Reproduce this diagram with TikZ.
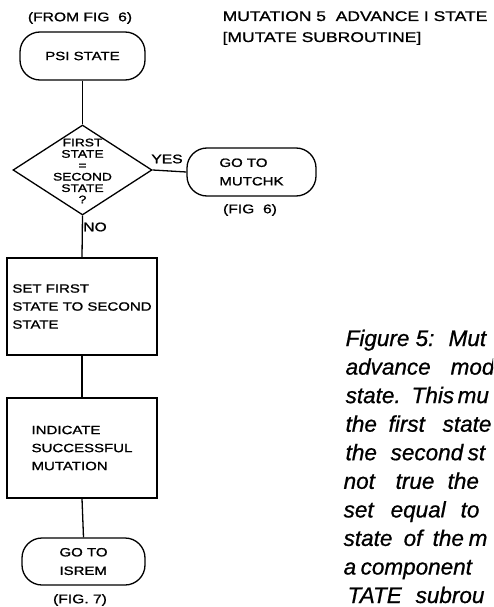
\documentclass[tikz,border=0pt]{standalone}
\usepackage{fontspec}
\setmainfont{Liberation Sans}
\newfontfamily\fcfont[FakeStretch=1.25,FakeBold=1.2]{Liberation Sans}
\newfontfamily\capfont[FakeBold=0.8]{Liberation Sans}
\usetikzlibrary{shapes.geometric}
\begin{document}
\begin{tikzpicture}[x=1pt,y=-1pt,line width=1.3pt,
  boxtxt/.style={font=\fcfont\fontsize{12}{18.5}\selectfont},
  term/.style={draw,rounded corners=20pt,align=left,inner sep=0pt,boxtxt},
  proc/.style={draw,align=left,inner sep=0pt,font=\fcfont\fontsize{12}{18}\selectfont},
  dia/.style={draw,diamond,inner sep=0pt},
  dtxt/.style={align=center,inner sep=0pt,font=\fcfont\fontsize{11}{11.4}\selectfont},
  lbl/.style={inner sep=0pt,font=\fcfont\fontsize{12.5}{14}\selectfont},
  head/.style={inner sep=0pt,anchor=base west,font=\fcfont\fontsize{14}{16}\selectfont},
  capw/.style={inner sep=0pt,anchor=base west,font=\capfont\itshape\fontsize{22.5}{26}\selectfont}]
\useasboundingbox (0,0) rectangle (493,607);
\fill[white] (0,0) rectangle (493,607);
\clip (0,0) rectangle (493,607);

% header
\node[head] (h1) at (222,21) {MUTATION 5\ \ ADVANCE I STATE};
\node[head] (h2) at (222,42) {[MUTATE\ SUBROUTINE]};

% flowchart
\node[lbl] (from) at (80,18) {(FROM FIG\ \ 6)};
\node[term,minimum width=125pt,minimum height=48pt] (psi) at (82.5,56) {PSI STATE};
\node[dia,minimum width=139pt,minimum height=90pt] (dec) at (82.5,170) {};
\node[dtxt] (dtext) at (82.5,171) {FIRST\\STATE\\=\\SECOND\\STATE\\?};
\node[term,minimum width=129pt,minimum height=48pt] (mutchk) at (251.5,172) {GO TO\\MUTCHK};
\node[lbl] (fig6) at (250,210) {(FIG\ \ 6)};
\node[proc,minimum width=150pt,minimum height=97pt] (r1) at (82,306.5) {SET FIRST\\STATE TO SECOND\\STATE};
\node[proc,minimum width=150pt,minimum height=100pt] (r2) at (82,448) {INDICATE\\SUCCESSFUL\\MUTATION};
\node[term,minimum width=123pt,minimum height=47pt] (isrem) at (83.5,561.5) {GO TO\\ISREM};
\node[lbl] (fig7) at (80,600) {(FIG.\ 7)};
\node[lbl] (yes) at (167,159) {YES};
\node[lbl] (no) at (95,227) {NO};

\draw (psi.south) -- (dec.north);
\draw (dec.east) -- (mutchk.west);
\draw (dec.south) -- (r1.north);
\draw (r1.south) -- (r2.north);
\draw (r2.south) -- (isrem.north);

% caption
\foreach \px/\py/\w [count=\i] in {
  345/346/Figure, 415/346/5:, 448/346/Mut,
  345/374.6/advance, 450/374.6/mod,
  345/403.1/state., 411/403.1/This, 457/403.1/mu,
  345/431.7/the, 388/431.7/first, 442/431.7/state,
  345/460.2/the, 390/460.2/second, 467/460.2/st,
  343/488.8/not, 395/488.8/true, 447/488.8/the,
  343/517.4/set, 390/517.4/equal, 460/517.4/to,
  343/545.9/state, 403/545.9/of, 432/545.9/the, 468/545.9/m,
  343/574.5/a, 360/574.5/component,
  347/603/TATE, 415/603/subrou}
  \node[capw] (cw\i) at (\px,\py) {\w};
\end{tikzpicture}
\end{document}
